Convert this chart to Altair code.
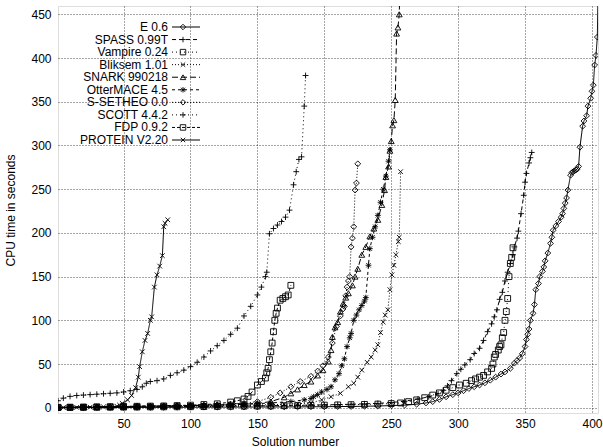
import altair as alt
import pandas as pd

names = ["E 0.6", "SPASS 0.99T", "Vampire 0.24", "Bliksem 1.01", "SNARK 990218",
         "OtterMACE 4.5", "S-SETHEO 0.0", "SCOTT 4.4.2", "FDP 0.9.2", "PROTEIN V2.20"]

e_x = [1,10,20,30,40,50,60,70,80,90,100,110,120,130,140,150,160,170,180,190,
       200,210,220,230,240,250,260,269,276,281,286,291,296,
       300,304,308,312,316,320,324,328,332,335,339,342,344,346,348,350,351,352,353,354,
       356,357,358,360,361,363,364,365,367,369,370,371,373,375,377,378,379,380,381,382,
       384,385,386,387,388,389,390,391,393,394,396,397,399,400,401,402,403,404,405]
e_y = [0.1,0.15,0.2,0.25,0.3,0.35,0.4,0.45,0.5,0.55,0.6,0.65,0.7,0.75,0.8,0.85,0.9,0.95,1.0,1.1,
       1.2,1.35,1.5,1.7,2,2.5,3,4,5.5,7,9.5,12.5,15,
       17,19.5,22,24,26,28.5,31.5,35,38.5,41,45,51,54,57,62,70,78,84,90,100,
       108,118,135,142,150,156,161,168,177,188,195,203,208,213,218,222,228,234,240,249,
       266,269,270,271,272,273,276,298,322,328,334,345,354,362,369,392,403,424,520]

spass_x = [1,10,20,30,40,50,60,70,80,90,100,110,120,130,140,150,160,170,180,190,
           200,210,220,230,240,250,260,270,278,285,289,292,
           295,299,302,305,309,312,316,319,322,325,327,329,331,333,335,337,339,341,342,344,
           345,347,349,350,351,353,354,355]
spass_y = [0.3,0.4,0.5,0.6,0.7,0.8,0.9,1.0,1.1,1.25,1.4,1.55,1.7,1.85,2,2.2,2.4,2.6,2.8,3,
           3.3,3.6,4,4.5,5,6,7.5,10,12.5,16,20,25,
           31,39,44,49,55,62,68,77,87,96,104,112,124,132,145,155,165,175,184,194,
           202,222,243,258,268,280,286,292]

vampire_x = [1,10,20,30,40,50,60,70,80,90,100,110,120,130,140,150,160,170,180,190,
             200,210,220,230,240,250,257,263,269,275,281,286,
             291,296,301,306,310,313,316,319,322,325,326,327,328,330,331,332,333,334,335,336,
             337,338,339,340,341]
vampire_y = [0.2,0.3,0.4,0.5,0.6,0.7,0.8,0.9,1,1.1,1.2,1.35,1.5,1.65,1.8,1.95,2.1,2.3,2.5,2.75,
             3,3.25,3.5,3.85,4.2,4.8,5.5,7,9,11.5,14.5,17,
             20,23,26,28,31,33,35,37,41,45,50,58,61,66,70,72,80,86,100,110,
             125,150,165,172,183]

bliksem_x = [1,10,20,30,40,50,60,70,80,90,100,110,120,130,140,150,160,170,180,190,
             198,205,212,218,222,225,228,232,235,
             238,240,242,244,245.5,247.5,249,250.5,252,253.5,255.3,256,257]
bliksem_y = [0.3,0.45,0.6,0.75,0.9,1.05,1.2,1.35,1.5,1.7,1.9,2.1,2.3,2.55,2.8,3.1,3.5,4,4.5,5.5,
             9,12.6,16.5,24,28,35,43,52,58,
             66,72,86,98,106,112,135,152,163,175,190,195,270]

snark_x = [1,10,20,30,40,50,60,70,80,90,100,110,120,130,140,150,160,
           170,175,180,185,190,195,199,203,205,206,
           208,210,212,214,216,218,221,223,225,228,231,234,237,240,243,245,246,248,249,250,
           251,252,253,254,255,256,257]
snark_y = [0.4,0.6,0.8,1,1.2,1.4,1.6,1.8,2,2.25,2.5,2.75,3,3.5,4,5,7,
           12,16.5,21,26,30,37,43,53,66,81,
           92,98,110,119,126,131,140,150,159,175,184,196,205,215,232,249,264,276,294,305,
           323,329,352,428,435,450,520]

otter_x = [1,10,20,30,40,50,60,70,80,90,100,110,120,130,140,150,160,
           175,185,190,192,195,198,202,205,208,211,213,
           215,217,219,220,222,224,226,228,230,231,233,234,236,238,240,242,244,246,248,249]
otter_y = [0.5,0.7,0.9,1.1,1.3,1.5,1.7,1.9,2.1,2.35,2.6,2.9,3.2,3.6,4,4.7,5.5,
           7,9,10.5,12.6,15,18,21,24,32,39,48,
           56,70,80,85,100,106,112,117,122,126,163,182,195,207,220,235,250,265,282,295]

ssetheo_x = [1,10,20,30,40,50,60,70,80,90,100,110,120,130,140,150,160,
             167,175,182,190,195,199,203,206,209,212,
             214,215,216,217,218,219,220,221,222,223,224,225]
ssetheo_y = [0.3,0.5,0.7,0.9,1.1,1.3,1.5,1.75,2,2.3,2.6,3,3.5,4.2,5,7,12,
             17,24,30,36,42,48,58,74,93,105,
             113,116,128,138,145,150,184,194,207,249,257,279]

scott_x = [1,5,10,15,20,25,30,35,40,45,50,55,60,64,67,70,75,80,85,90,
           95,100,105,110,115,120,125,130,135,140,145,150,153,156,157,159,162,165,168,171,
           174,177,179,181,183,185,186]
scott_y = [8,11,13,14,14.5,15,15.5,16,16.5,17,18,19.5,21,24,28,30,31,33,37,40,
           43,47,52,58,65,71,77,84,91,105,116,129,138,150,155,199,205,209,213,218,
           226,255,270,284,287,345,380]

fdp_x = [1,10,20,30,40,50,60,70,80,90,100,110,120,130,135,140,143,146,150,153,156,157,158,159,160,161,
         162,163,164,165,167,169,171,173,175]
fdp_y = [0.5,0.7,0.9,1.1,1.3,1.5,1.7,1.9,2.1,2.5,3,3.7,4.5,6.5,8,10,13,18,26,30,34,40,45,55,64,74,
         87,100,108,114,123,125,127,129,140]

protein_x = [1,5,10,15,20,25,30,35,40,45,47,49,53,56,59,61,62,64,66,68,70,71,73,75,77,79,80,81,83]
protein_y = [0.1,0.2,0.3,0.4,0.5,0.65,0.8,1,1.2,1.8,3,5,9,14,23,35,47,64,77,85,100,104,138,152,162,174,207,211,215]

series = [
    (names[0], e_x, e_y), (names[1], spass_x, spass_y), (names[2], vampire_x, vampire_y),
    (names[3], bliksem_x, bliksem_y), (names[4], snark_x, snark_y), (names[5], otter_x, otter_y),
    (names[6], ssetheo_x, ssetheo_y), (names[7], scott_x, scott_y), (names[8], fdp_x, fdp_y),
    (names[9], protein_x, protein_y),
]

rows = []
for name, xs, ys in series:
    assert len(xs) == len(ys), name
    for a, b in zip(xs, ys):
        rows.append({"prover": name, "solution": a, "time": b})
df = pd.DataFrame(rows)

shapes = [
    "diamond",
    "M-1,0L1,0M0,-1L0,1",
    "square",
    "M-0.8,-0.8L0.8,0.8M-0.8,0.8L0.8,-0.8",
    "triangle-up",
    "M-1,0L1,0M0,-1L0,1M-0.75,-0.75L0.75,0.75M-0.75,0.75L0.75,-0.75",
    "diamond",
    "M-1,0L1,0M0,-1L0,1",
    "square",
    "M-0.8,-0.8L0.8,0.8M-0.8,0.8L0.8,-0.8",
]
dashes = [[1, 0], [4, 3], [1, 3], [1, 2], [6, 3], [3, 3], [1, 2], [1, 3], [3, 2], [1, 0]]

FONT = "Liberation Sans"
shape_enc = alt.Shape("prover:N", scale=alt.Scale(domain=names, range=shapes), legend=None)
dash_enc = alt.StrokeDash("prover:N", scale=alt.Scale(domain=names, range=dashes), legend=None)

x_enc = alt.X("solution:Q", scale=alt.Scale(domain=[1, 404.5], nice=False, zero=False),
              axis=alt.Axis(values=[50, 100, 150, 200, 250, 300, 350, 400], grid=True,
                            gridDash=[1, 2], gridColor="#000", gridWidth=0.7, ticks=False,
                            domain=False, labelFont=FONT, labelFontSize=12, labelPadding=5,
                            labelColor="#000", title="Solution number", titleFont=FONT,
                            titleFontSize=12, titleFontWeight="normal", titleColor="#000",
                            titleX=237, titleY=28, titleAlign="center", titleBaseline="middle"))
y_enc = alt.Y("time:Q", scale=alt.Scale(domain=[-6, 459.5], nice=False, zero=False),
              axis=alt.Axis(values=[0, 50, 100, 150, 200, 250, 300, 350, 400, 450], grid=True,
                            gridDash=[1, 2], gridColor="#000", gridWidth=0.7, ticks=False,
                            domain=False, labelFont=FONT, labelFontSize=12, labelPadding=7,
                            labelColor="#000", title="CPU time in seconds", titleFont=FONT,
                            titleFontSize=12, titleFontWeight="normal", titleColor="#000",
                            titleX=-48, titleY=204, titleAlign="center", titleBaseline="middle"))

base = alt.Chart(df)
lines = base.mark_line(color="black", strokeWidth=1, clip=True).encode(
    x=x_enc, y=y_enc, detail="prover:N", strokeDash=dash_enc, order="solution:Q")
points = base.mark_point(color="black", filled=False, strokeWidth=0.9, size=34, clip=True,
                         opacity=1).encode(x=x_enc, y=y_enc, shape=shape_enc)

leg_df = pd.DataFrame({"prover": names, "row": list(range(len(names)))})
leg_y = alt.Y("row:Q", scale=alt.Scale(domain=[0, 9], range=[21, 134]), axis=None)
leg = alt.Chart(leg_df)
leg_text = leg.mark_text(align="right", baseline="middle", font=FONT, fontSize=12,
                         color="black").encode(x=alt.value(110), y=leg_y, text="prover:N")
leg_rule = leg.mark_rule(color="black", strokeWidth=1).encode(
    x=alt.value(114), x2=alt.value(142), y=leg_y, strokeDash=dash_enc)
leg_pts = leg.mark_point(color="black", filled=False, strokeWidth=0.9, size=30, opacity=1).encode(
    x=alt.value(125), y=leg_y, shape=shape_enc)

main = alt.layer(lines, points)
legend_layer = alt.layer(leg_rule, leg_pts, leg_text)

chart = alt.layer(main, legend_layer).resolve_scale(y="independent").properties(
    width=540, height=407,
    autosize=alt.AutoSizeParams(type="none"),
    padding={"left": 58, "top": 6, "right": 5, "bottom": 34},
).configure_view(stroke="black", strokeWidth=1).configure(background="white")

chart.save("out.html", embed_options={"renderer": "svg", "actions": False})
